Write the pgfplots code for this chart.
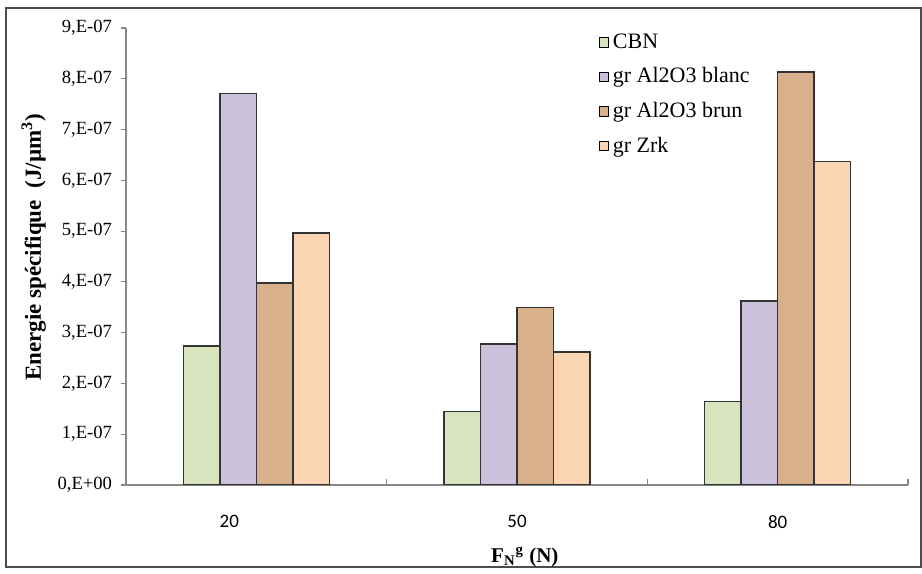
\documentclass[border=0pt]{standalone}
\usepackage{pgfplots}
\pgfplotsset{compat=1.18}
\usepackage{fontspec}
\setmainfont{Liberation Serif}
\newfontfamily\calib{Carlito}
\definecolor{cbn}{HTML}{D7E4BD}
\definecolor{blanc}{HTML}{CCC1DA}
\definecolor{brun}{HTML}{D9B08C}
\definecolor{zrk}{HTML}{FCD5B5}
\definecolor{axgray}{HTML}{868686}
\begin{document}
\begin{tikzpicture}
\path (0bp,0bp) rectangle (461bp,-284bp);
\draw[black!70, line width=0.8bp] (3bp,-4bp) rectangle (460.5bp,-283.5bp);
\begin{axis}[
  at={(63bp,-242.5bp)}, anchor=south west,
  scale only axis, width=391bp, height=228.5bp,
  xmin=-0.5, xmax=2.5, ymin=0, ymax=9,
  ybar=0pt, bar width=18.25bp,
  axis x line*=bottom, axis y line*=left,
  axis line style={axgray, line width=0.6bp},
  tick style={axgray, line width=0.6bp},
  xtick={0,1,2},
  xticklabels={{\kern-27bp 20},50,80},
  x tick label style={font=\calib\fontsize{9.5bp}{11bp}\selectfont, yshift=-9bp},
  major x tick style={draw=none},
  extra x ticks={0.5,1.5,2.5},
  extra x tick labels={},
  extra x tick style={major tick length=3bp, tick align=inside, major x tick style={draw=axgray}},
  ytick={0,...,9},
  yticklabels={{0,E+00},{1,E-07},{2,E-07},{3,E-07},{4,E-07},{5,E-07},{6,E-07},{7,E-07},{8,E-07},{9,E-07}},
  y tick label style={font=\fontsize{9.3bp}{10bp}\selectfont},
  tick align=outside, major tick length=2.5bp,
  yticklabel style={xshift=-1bp},
  xlabel={\textbf{F\textsubscript{N}\textsuperscript{g} (N)}},
  xlabel style={font=\fontsize{10.5bp}{12bp}\selectfont, at={(axis description cs:0.51,-0.12)}, anchor=north},
  ylabel={\textbf{Energie spécifique\ \ (J/µm\textsuperscript{3})}},
  ylabel style={font=\fontsize{11.5bp}{13bp}\selectfont, at={(axis description cs:-0.118,0.52)}, anchor=center},
  legend style={draw=none, fill=none, at={(axis description cs:0.604,0.997)}, anchor=north west,
    nodes={font=\fontsize{11bp}{13bp}\selectfont}, row sep=4.2bp, inner sep=0pt},
  legend cell align=left,
  legend image code/.code={\draw[#1, draw=black, line width=0.5bp] (0bp,-2.3bp) rectangle (4.6bp,2.3bp);},
  every axis plot/.append style={draw=black!80, line width=0.7bp},
]
\addplot[fill=cbn] coordinates {(0,2.74) (1,1.45) (2,1.64)};
\addplot[fill=blanc] coordinates {(0,7.71) (1,2.78) (2,3.62)};
\addplot[fill=brun] coordinates {(0,3.98) (1,3.50) (2,8.13)};
\addplot[fill=zrk] coordinates {(0,4.96) (1,2.62) (2,6.37)};
\legend{CBN, gr Al2O3 blanc, gr Al2O3 brun, gr Zrk}
\end{axis}
\end{tikzpicture}
\end{document}
